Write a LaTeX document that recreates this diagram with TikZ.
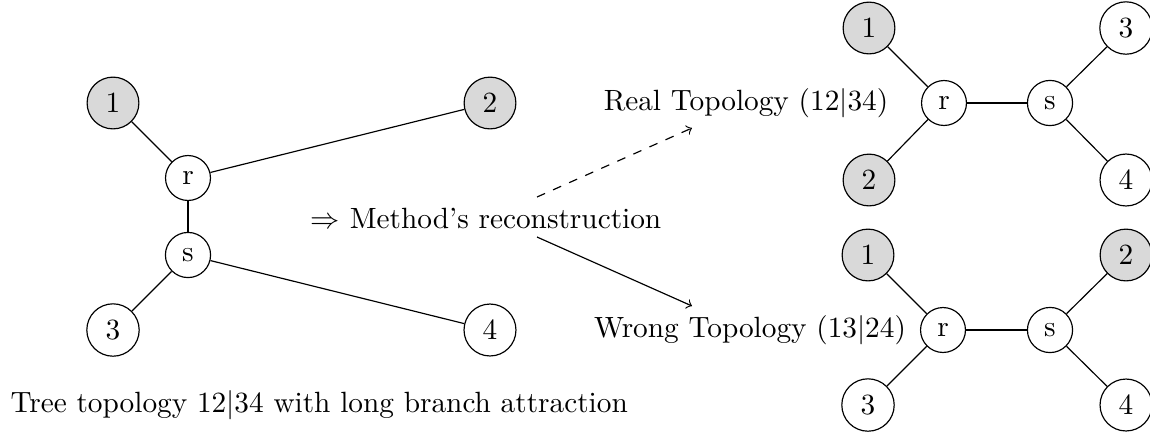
\documentclass[tikz,border=0pt]{standalone}
\usetikzlibrary{arrows}
\begin{document}
\begin{tikzpicture}[x=0.3413pt,y=-0.3413pt,
  vert/.style={circle,draw,fill=white,line width=0.4pt},
  leaf/.style={vert,fill=gray!30},
  plain/.style={vert},
  edge/.style={draw,line width=0.4pt},
  lbl/.style={inner sep=0pt}]
\useasboundingbox (0,0) rectangle (1150,435);
% left tree
\node[leaf] (L1) at (113,103) {1};
\node[leaf] (L2) at (490,103) {2};
\node[plain] (L3) at (113,330) {3};
\node[plain] (L4) at (490,330) {4};
\node[vert] (Lr) at (188,178) {r};
\node[vert] (Ls) at (188,255) {s};
\draw[edge] (L1) -- (Lr);
\draw[edge] (L2) -- (Lr);
\draw[edge] (Lr) -- (Ls);
\draw[edge] (L3) -- (Ls);
\draw[edge] (L4) -- (Ls);
\node[lbl,anchor=west] (cap) at (10,405) {Tree topology 12$|$34 with long branch attraction};
% method
\node[lbl] (meth) at (486,218) {$\Rightarrow$ Method's reconstruction};
\coordinate (a1) at (537,197);
\coordinate (b1) at (692,128);
\coordinate (a2) at (537,237);
\coordinate (b2) at (692,306);
\draw[edge,dashed,->] (a1) -- (b1);
\draw[edge,->] (a2) -- (b2);
% real topology
\node[lbl] (real) at (746,103) {Real Topology (12$|$34)};
\node[leaf] (R1) at (869,28) {1};
\node[leaf] (R2) at (869,180) {2};
\node[plain] (R3) at (1126,28) {3};
\node[plain] (R4) at (1126,180) {4};
\node[vert] (Rr) at (944,103) {r};
\node[vert] (Rs) at (1050,103) {s};
\draw[edge] (R1) -- (Rr);
\draw[edge] (R2) -- (Rr);
\draw[edge] (Rr) -- (Rs);
\draw[edge] (R3) -- (Rs);
\draw[edge] (R4) -- (Rs);
% wrong topology
\node[lbl] (wrong) at (750,330) {Wrong Topology (13$|$24)};
\node[leaf] (W1) at (868,255) {1};
\node[plain] (W3) at (868,405) {3};
\node[leaf] (W2) at (1126,255) {2};
\node[plain] (W4) at (1126,405) {4};
\node[vert] (Wr) at (943,330) {r};
\node[vert] (Ws) at (1050,330) {s};
\draw[edge] (W1) -- (Wr);
\draw[edge] (W3) -- (Wr);
\draw[edge] (Wr) -- (Ws);
\draw[edge] (W2) -- (Ws);
\draw[edge] (W4) -- (Ws);
\end{tikzpicture}
\end{document}
